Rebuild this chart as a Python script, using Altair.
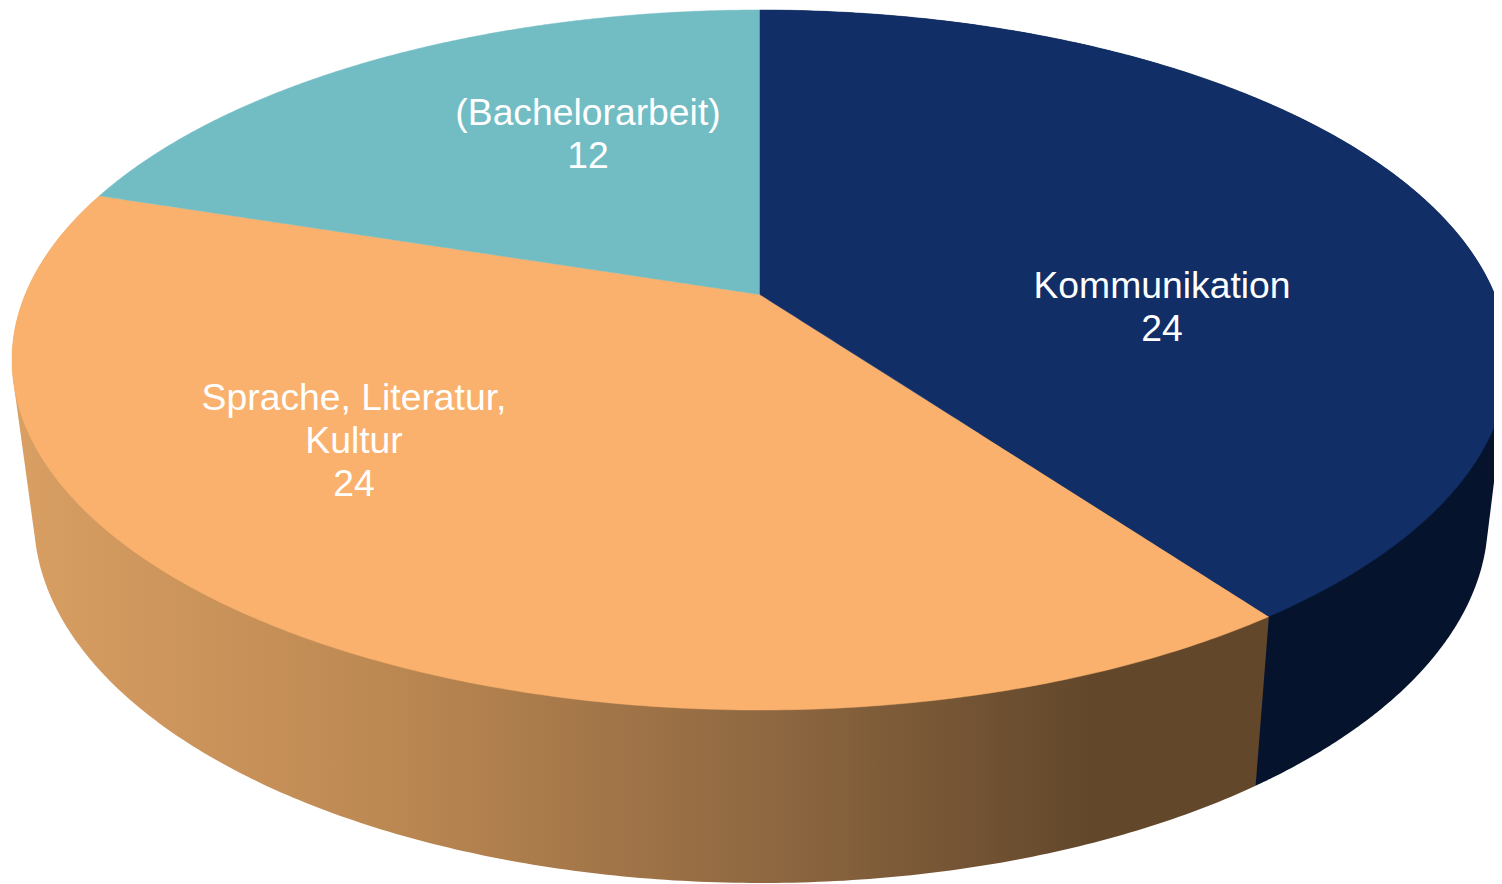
import numpy as np
import pandas as pd
import altair as alt

# ---- chart values -------------------------------------------------------
CATEGORIES = ["Kommunikation", "Sprache, Literatur, Kultur", "(Bachelorarbeit)"]
VALUES = [24, 24, 12]
LABEL_LINES = [["Kommunikation"], ["Sprache, Literatur,", "Kultur"], ["(Bachelorarbeit)"]]
TOP_COLORS = ["#112E67", "#F9B16D", "#72BCC3"]

# ---- layout (page pixels) -----------------------------------------------
MARGIN = 8
CHART_W, CHART_H = 1486, 876
TOP_RING = dict(cx=760.0, cy=360.0, rx=748.0, ry=350.0)
LOW_RING = dict(cx=761.0, cy=519.0, rx=727.0, ry=364.0)
TILT = 0.187
LABEL_X = [1162, 354, 588]
LABEL_FIRST_BASELINE = [298, 410, 125]
LINE_STEP = 43
FONT = "Liberation Sans"
FONT_SIZE = 37.3


def ring_point(ring, deg, radius=1.0):
    """Perspective projection of a pie-plane point (clockwise from 12 o'clock)."""
    t = np.radians(deg)
    X, Y = radius * np.sin(t), radius * np.cos(t)
    d = 1 + TILT * Y
    k = 1 - TILT ** 2
    return (
        ring["cx"] + ring["rx"] * np.sqrt(k) * X / d,
        ring["cy"] - ring["ry"] * TILT - ring["ry"] * k * Y / d,
    )


def chains(points):
    pts = sorted(set((round(float(a), 3), round(float(b), 3)) for a, b in points))

    def half(seq):
        out = []
        for p in seq:
            while len(out) >= 2 and (
                (out[-1][0] - out[-2][0]) * (p[1] - out[-2][1])
                - (out[-1][1] - out[-2][1]) * (p[0] - out[-2][0])
            ) <= 0:
                out.pop()
            out.append(p)
        return out

    return half(pts), half(pts[::-1])[::-1]


def band(points):
    a, b = chains(points)
    upper, lower = {}, {}
    for x, y in a:
        upper[x] = min(y, upper.get(x, y))
    for x, y in b:
        lower[x] = max(y, lower.get(x, y))
    xs = sorted(set(upper) | set(lower))
    ux = sorted(upper)
    lx = sorted(lower)
    return pd.DataFrame({
        "x": xs,
        "y": np.interp(xs, ux, [upper[v] for v in ux]),
        "y2": np.interp(xs, lx, [lower[v] for v in lx]),
    })


shares = np.array(VALUES, dtype=float) / sum(VALUES) * 360
edges = np.concatenate([[0], np.cumsum(shares)])


def arc(ring, i):
    return [ring_point(ring, d) for d in np.linspace(edges[i], edges[i + 1], 260)]


x_scale = alt.Scale(domain=[MARGIN, MARGIN + CHART_W], nice=False, zero=False)
y_scale = alt.Scale(domain=[MARGIN + CHART_H, MARGIN], nice=False, zero=False)


def area_layer(frame, **mark):
    return alt.Chart(frame).mark_area(orient="vertical", clip=True, **mark).encode(
        x=alt.X("x:Q", scale=x_scale, axis=None),
        y=alt.Y("y:Q", scale=y_scale, axis=None, stack=None),
        y2="y2:Q",
    )


side_gradient = alt.Gradient(
    gradient="linear", x1=0, x2=1, y1=0, y2=0,
    stops=[
        alt.GradientStop(offset=0.0, color="#D99F63"),
        alt.GradientStop(offset=0.30, color="#BC8852"),
        alt.GradientStop(offset=0.60, color="#8F6841"),
        alt.GradientStop(offset=0.86, color="#62472B"),
        alt.GradientStop(offset=1.0, color="#62472B"),
    ],
)

apex = ring_point(TOP_RING, 0, 0.0)
layers = [
    area_layer(band(arc(TOP_RING, 0) + arc(LOW_RING, 0)), fill="#06132C"),
    area_layer(band(arc(TOP_RING, 1) + arc(LOW_RING, 1)), fill=side_gradient),
]
for i in (1, 2, 0):
    layers.append(
        area_layer(band(arc(TOP_RING, i) + [apex]), fill=TOP_COLORS[i],
                   stroke=TOP_COLORS[i], strokeWidth=0.5)
    )

rows = []
for i, lines in enumerate(LABEL_LINES):
    for n, line in enumerate(lines + [str(VALUES[i])]):
        rows.append({"x": LABEL_X[i], "y": LABEL_FIRST_BASELINE[i] + n * LINE_STEP, "t": line})

labels = alt.Chart(pd.DataFrame(rows)).mark_text(
    color="white", font=FONT, fontSize=FONT_SIZE, align="center", baseline="alphabetic"
).encode(
    x=alt.X("x:Q", scale=x_scale, axis=None),
    y=alt.Y("y:Q", scale=y_scale, axis=None),
    text="t:N",
)

chart = alt.layer(*layers, labels).properties(
    width=CHART_W,
    height=CHART_H,
    padding=0,
    autosize=alt.AutoSizeParams(type="none"),
    background="white",
).configure_view(strokeWidth=0)

chart.save("out.html", embed_options={"renderer": "svg", "actions": False})
